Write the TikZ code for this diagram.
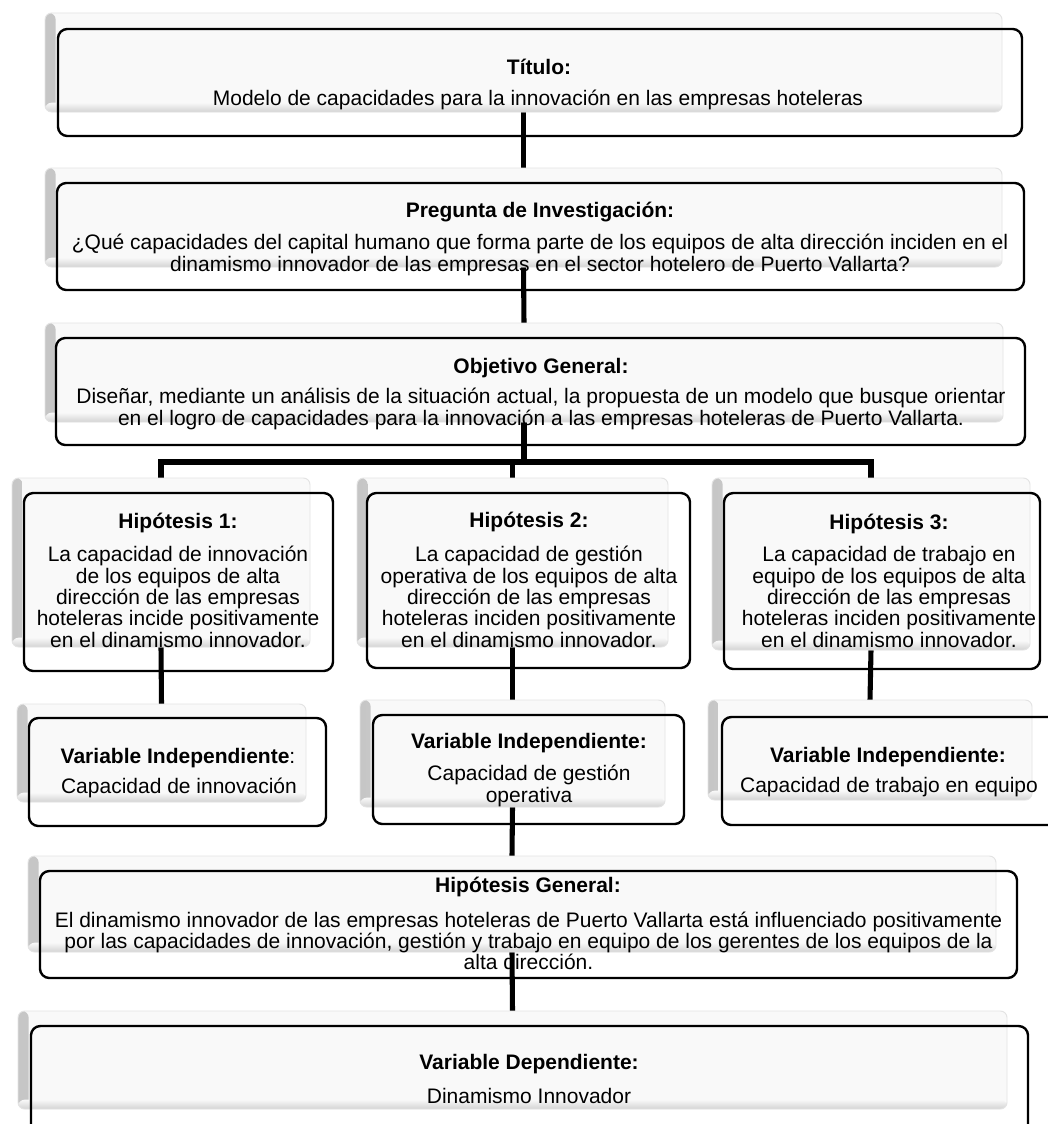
\documentclass[tikz,border=0pt]{standalone}
\usepackage{fontspec}
\setmainfont{Liberation Sans}
\pgfdeclarelayer{bg}
\pgfsetlayers{bg,main}
\newcommand{\bx}[6]{\node[#2, minimum width={(#5-#3)*0.75pt}, minimum height={(#6-#4)*0.75pt}] (#1) at ({(#3+#5)/2},{(#4+#6)/2}) {};}
\begin{document}
\begin{tikzpicture}[x=0.75pt,y=-0.75pt,
  ghost/.style={draw=gray!22, line width=0.7pt, fill=gray!5, rounded corners=5pt, inner sep=0pt, outer sep=0pt,
    path picture={
      \shade[left color=gray!45, right color=gray!5] (path picture bounding box.south west) rectangle ([xshift=8pt]path picture bounding box.north west);
      \shade[top color=gray!5, bottom color=gray!35] ([yshift=7pt]path picture bounding box.south west) rectangle (path picture bounding box.south east);
    }},
  frame/.style={draw=black, line width=1.8pt, rounded corners=7pt, inner sep=0pt, outer sep=0pt},
  conn/.style={line width=3.8pt, black},
  hd/.style={font=\bfseries\fontsize{15.75}{16}\selectfont, inner sep=0pt},
  bd/.style={font=\fontsize{15.75}{16}\selectfont, align=center, inner sep=0pt},
]
\useasboundingbox (0,0) rectangle (1048,1124);
\begin{pgfonlayer}{bg}
\fill[white] (0,0) rectangle (1048,1124);
\end{pgfonlayer}
\clip (0,0) rectangle (1048,1124);

% ghost boxes
\bx{gT}{ghost}{45}{13}{1002}{112}
\bx{gP}{ghost}{45}{168}{1002}{267}
\bx{gO}{ghost}{45}{323}{1003}{422}
\bx{gH1}{ghost}{12}{478}{310}{647}
\bx{gH2}{ghost}{357}{478}{668}{647}
\bx{gH3}{ghost}{712}{478}{1030}{650}
\bx{gV1}{ghost}{17}{704}{306}{802}
\bx{gV2}{ghost}{360}{700}{665}{807}
\bx{gV3}{ghost}{708}{700}{1032}{800}
\bx{gG}{ghost}{28}{856}{996}{952}
\bx{gD}{ghost}{18}{1011}{1007}{1109}

% frames
\bx{fT}{frame}{58}{29}{1022}{136}
\bx{fP}{frame}{57}{183}{1024}{290}
\bx{fO}{frame}{56}{338}{1025}{445}
\bx{fH1}{frame}{24}{493}{333}{671}
\bx{fH2}{frame}{367}{493}{690}{668}
\bx{fH3}{frame}{724}{493}{1040}{669}
\bx{fV1}{frame}{29}{718}{326}{826}
\bx{fV2}{frame}{373}{715}{684}{824}
\bx{fV3}{frame}{722}{717}{1070}{825}
\bx{fG}{frame}{40}{871}{1017}{978}
\bx{fD}{frame}{31}{1026}{1028}{1170}

% texts
\node[hd] (hT) at (539,67) {Título:};
\node[bd] (tT) at (538,100) {Modelo de capacidades para la innovación en las empresas hoteleras};
\node[hd] (hP) at (540,212) {Pregunta de Investigación:};
\node[bd] (tP) at (540,255) {¿Qué capacidades del capital humano que forma parte de los equipos de alta dirección inciden en el\\ dinamismo innovador de las empresas en el sector hotelero de Puerto Vallarta?};
\node[hd] (hO) at (541,368) {Objetivo General:};
\node[bd] (tO) at (541,409) {Diseñar, mediante un análisis de la situación actual, la propuesta de un modelo que busque orientar\\ en el logro de capacidades para la innovación a las empresas hoteleras de Puerto Vallarta.};
\node[hd] (hH1) at (178,523) {Hipótesis 1:};
\node[bd] (tH1) at (178,597) {La capacidad de innovación\\ de los equipos de alta\\ dirección de las empresas\\ hoteleras incide positivamente\\ en el dinamismo innovador.};
\node[hd] (hH2) at (529,522) {Hipótesis 2:};
\node[bd] (tH2) at (529,597) {La capacidad de gestión\\ operativa de los equipos de alta\\ dirección de las empresas\\ hoteleras inciden positivamente\\ en el dinamismo innovador.};
\node[hd] (hH3) at (889,524) {Hipótesis 3:};
\node[bd] (tH3) at (889,597) {La capacidad de trabajo en\\ equipo de los equipos de alta\\ dirección de las empresas\\ hoteleras inciden positivamente\\ en el dinamismo innovador.};
\node[hd] (hV1) at (178,758) {Variable Independiente{\mdseries:}};
\node[bd] (tV1) at (179,788) {Capacidad de innovación};
\node[hd] (hV2) at (529,743) {Variable Independiente:};
\node[bd] (tV2) at (529,786) {Capacidad de gestión\\ operativa};
\node[hd] (hV3) at (888,757) {Variable Independiente:};
\node[bd] (tV3) at (889,787) {Capacidad de trabajo en equipo};
\node[hd] (hG) at (528,887) {Hipótesis General:};
\node[bd] (tG) at (528.5,941) {El dinamismo innovador de las empresas hoteleras de Puerto Vallarta está influenciado positivamente\\ por las capacidades de innovación, gestión y trabajo en equipo de los gerentes de los equipos de la\\ alta dirección.};
\node[hd] (hD) at (529,1064) {Variable Dependiente:};
\node[bd] (tD) at (529,1096) {Dinamismo Innovador};

% connectors
\begin{pgfonlayer}{bg}
\coordinate (bar) at (0,462);
\draw[conn] (gT.south) -- (gP.north);
\draw[conn] (gP.south) -- (gO.north);
\draw[conn] (gO.south) -- (gO.south |- bar);
\draw[conn] (gH1.north) |- (gH3.north |- bar) -- (gH3.north);
\draw[conn] (gH2.north) -- (gH2.north |- bar);
\draw[conn] (gH1.south) -- (gV1.north);
\draw[conn] (gH2.south) -- (gV2.north);
\draw[conn] (gH3.south) -- (gV3.north);
\draw[conn] (gV2.south) -- (gG.north);
\draw[conn] (gG.south) -- (gD.north);
\end{pgfonlayer}
\end{tikzpicture}
\end{document}
